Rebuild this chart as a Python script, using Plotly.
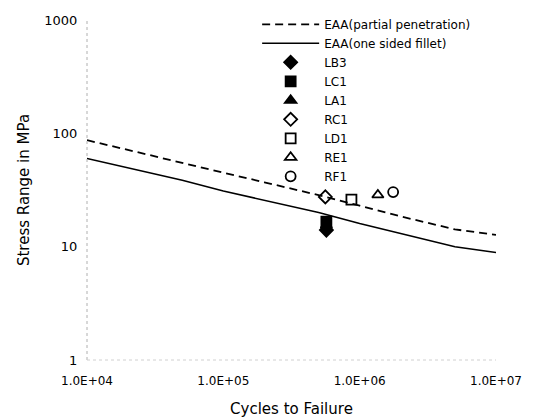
import plotly.graph_objects as go

# ---- data ----
cycles_curve = [1e4, 2e4, 5e4, 1e5, 2e5, 5e5, 1e6, 2e6, 5e6, 1e7]
eaa_partial = [87, 71, 55, 45, 37, 28.5, 23, 18.5, 14.2, 12.7]
eaa_fillet = [60, 49.5, 38.5, 31, 25.5, 20, 16, 13, 10, 8.9]

specimens = ["LB3", "LC1", "LA1", "RC1", "LD1", "RE1", "RF1"]
spec_cycles = [5.7e5, 5.7e5, 5.7e5, 5.6e5, 8.7e5, 1.36e6, 1.76e6]
spec_stress = [14.0, 16.6, 15.4, 27.5, 26.0, 28.6, 30.3]
spec_symbols = ["diamond", "square", "triangle-up", "diamond-open",
                "square-open", "triangle-up-open", "circle-open"]

x_tickvals = [1e4, 1e5, 1e6, 1e7]
x_ticktext = ["1.0E+04", "1.0E+05", "1.0E+06", "1.0E+07"]
y_tickvals = [1, 10, 100, 1000]
y_ticktext = ["1", "10", "100", "1000"]

FONT = "DejaVu Sans, Liberation Sans, Arial, sans-serif"

fig = go.Figure()
fig.add_trace(go.Scatter(x=cycles_curve, y=eaa_partial, mode="lines",
                         name="EAA(partial penetration)",
                         line=dict(color="black", width=1.8, dash="8px,5px")))
fig.add_trace(go.Scatter(x=cycles_curve, y=eaa_fillet, mode="lines",
                         name="EAA(one sided fillet)",
                         line=dict(color="black", width=1.5)))
for name, xv, yv, sym in zip(specimens, spec_cycles, spec_stress, spec_symbols):
    fig.add_trace(go.Scatter(x=[xv], y=[yv], mode="markers", name=name,
                             marker=dict(symbol=sym, size=10, color="black",
                                         line=dict(color="black", width=1.8))))

# the page body adds an 8px offset, so the figure is sized to fit the window
fig.update_layout(
    width=527, height=410,
    margin=dict(l=79, r=39, t=2, b=58),
    paper_bgcolor="white", plot_bgcolor="white",
    font=dict(family=FONT, color="black"),
    showlegend=True,
    legend=dict(x=0.416, y=1.03, xanchor="left", yanchor="top",
                bgcolor="rgba(0,0,0,0)", itemwidth=57,
                font=dict(size=12, family=FONT), tracegroupgap=0),
    xaxis=dict(type="log", range=[4, 7], tickvals=x_tickvals, ticktext=x_ticktext,
               showgrid=False, zeroline=False, showline=False, automargin=False,
               ticks="outside", ticklen=10, tickcolor="rgba(0,0,0,0)",
               tickfont=dict(size=12),
               title=dict(text="Cycles to Failure", font=dict(size=15), standoff=16)),
    yaxis=dict(type="log", range=[0, 3], tickvals=y_tickvals, ticktext=y_ticktext,
               showgrid=False, zeroline=False, showline=False, automargin=False,
               ticks="outside", ticklen=6, tickcolor="rgba(0,0,0,0)",
               tickfont=dict(size=13),
               title=dict(text="Stress Range in MPa", font=dict(size=15), standoff=11)),
    shapes=[
        dict(type="line", xref="paper", yref="paper", x0=0, x1=0, y0=0, y1=1,
             line=dict(color="#b0b0b0", width=1, dash="dot")),
        dict(type="line", xref="paper", yref="paper", x0=0, x1=1, y0=0, y1=0,
             line=dict(color="#d0d0d0", width=1, dash="dot")),
    ],
)

fig.write_html("out.html")
